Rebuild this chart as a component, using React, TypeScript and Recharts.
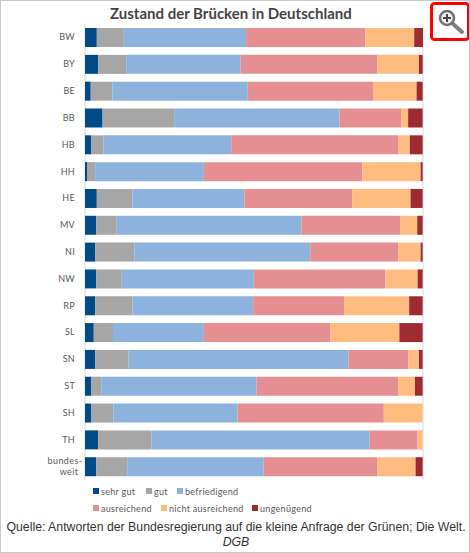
import { Bar, BarChart, CartesianGrid, XAxis, YAxis } from "recharts"

const regions = ["BW", "BY", "BE", "BB", "HB", "HH", "HE", "MV", "NI", "NW", "RP", "SL", "SN", "ST", "SH", "TH", "bundesweit"]

const sehrGut = [3.5, 3.9, 1.7, 5.2, 1.9, 0.6, 3.5, 3.3, 3, 3.3, 3, 2.6, 3, 1.9, 1.9, 3.9, 3.3]
const gut = [8, 8.3, 6.4, 21.2, 3.6, 2.4, 10.5, 6.1, 11.6, 7.6, 11, 5.7, 9.9, 2.9, 6.5, 15.8, 9.2]
const befriedigend = [36.2, 33.9, 40.1, 49, 37.8, 32.2, 33.2, 54.7, 52.1, 39.1, 35.8, 26.9, 65.1, 46, 36.8, 64.6, 40.4]
const ausreichend = [35.3, 40.4, 37.1, 18.2, 49.5, 46.9, 31.9, 29.2, 26.1, 39, 26.9, 37.4, 17.7, 42, 43.3, 14.2, 33.6]
const nichtAusreichend = [14.5, 12.4, 12.9, 2.1, 3.4, 17.3, 17.3, 5.1, 6.6, 9.5, 19.3, 20.5, 3.2, 4.9, 11.5, 1.5, 11.4]
const ungenuegend = [2.6, 1.1, 1.8, 4.3, 3.8, 0.6, 3.6, 1.6, 0.6, 1.5, 4, 6.9, 1.1, 2.3, 0, 0, 2.1]

const xTicks = [0, 10, 20, 30, 40, 50, 60, 70, 80, 90, 100]

const data = regions.map((region, i) => ({
  region,
  sehrGut: sehrGut[i],
  gut: gut[i],
  befriedigend: befriedigend[i],
  ausreichend: ausreichend[i],
  nichtAusreichend: nichtAusreichend[i],
  ungenuegend: ungenuegend[i],
}))

const series = [
  { key: "sehrGut", name: "sehr gut", color: "#004a87" },
  { key: "gut", name: "gut", color: "#a6a6a6" },
  { key: "befriedigend", name: "befriedigend", color: "#8db2db" },
  { key: "ausreichend", name: "ausreichend", color: "#e68f92" },
  { key: "nichtAusreichend", name: "nicht ausreichend", color: "#ffbc80" },
  { key: "ungenuegend", name: "ungenügend", color: "#9e2b30" },
]

const font = "Lato, sans-serif"

function RegionTick({ y, payload }: any) {
  if (payload.value === "bundesweit") {
    return (
      <text y={y} textAnchor="middle" fontSize={9} fontFamily={font} fill="#595959" letterSpacing={0.4}>
        <tspan x={65} dy={-3}>bundes-</tspan>
        <tspan x={69} dy={11}>weit</tspan>
      </text>
    )
  }
  return (
    <text x={75} y={y} dy={3} textAnchor="end" fontSize={9} fontFamily={font} fill="#595959" letterSpacing={0.3}>
      {payload.value}
    </text>
  )
}

function LegendItem({ left, top, index }: { left: number; top: number; index: number }) {
  const s = series[index]
  return (
    <div style={{ position: "absolute", left, top, height: 12, display: "flex", alignItems: "center", fontFamily: font, fontSize: 9, letterSpacing: 0.3, color: "#595959", whiteSpace: "nowrap" }}>
      <span style={{ width: 6, height: 6, background: s.color, marginRight: 2 }} />
      {s.name}
    </div>
  )
}

export default function App() {
  return (
    <div style={{ position: "fixed", left: 0, top: 0, width: 470, height: 553, background: "#fff", boxSizing: "border-box", border: "1px solid #c8c8c8", overflow: "hidden" }}>
      <div style={{ position: "absolute", left: -1, top: -1 }}>
        <BarChart width={470} height={553} data={data} layout="vertical" barCategoryGap="15%" margin={{ top: 24, right: 47, bottom: 73, left: 0 }}>
          <CartesianGrid vertical horizontal={false} stroke="#d9d9d9" />
          <XAxis type="number" domain={[0, 100]} ticks={xTicks} height={0} tick={false} axisLine={false} tickLine={false} />
          <YAxis type="category" dataKey="region" width={85} tick={<RegionTick />} axisLine={false} tickLine={false} interval={0} />
          {series.map((s) => (
            <Bar key={s.key} dataKey={s.key} name={s.name} stackId="a" fill={s.color} isAnimationActive={false} />
          ))}
        </BarChart>
      </div>

      <div style={{ position: "absolute", left: 109, top: 1, fontFamily: font, fontWeight: 700, fontSize: 15, lineHeight: "22px", color: "#444", whiteSpace: "nowrap" }}>
        Zustand der Brücken in Deutschland
      </div>

      <LegendItem left={92} top={484} index={0} />
      <LegendItem left={145} top={484} index={1} />
      <LegendItem left={176} top={484} index={2} />
      <LegendItem left={92} top={501} index={3} />
      <LegendItem left={160} top={501} index={4} />
      <LegendItem left={251} top={501} index={5} />

      <div style={{ position: "absolute", left: 0, width: 470, top: 519, textAlign: "center", fontFamily: "'Liberation Sans', sans-serif", fontSize: 12.3, lineHeight: "15px", color: "#333", whiteSpace: "nowrap" }}>
        Quelle: Antworten der Bundesregierung auf die kleine Anfrage der Grünen; Die Welt.
        <br />
        <i>DGB</i>
      </div>

      <svg width={40} height={40} style={{ position: "absolute", left: 429, top: 1 }}>
        <rect x={1.5} y={1.5} width={37} height={36} rx={3} fill="#fff" stroke="#f00" strokeWidth={3} />
        <line x1={22} y1={21} x2={32} y2={30} stroke="#808080" strokeWidth={4} strokeLinecap="round" />
        <circle cx={17} cy={16} r={7} fill="#eee" stroke="#707070" strokeWidth={2.5} />
        <path d="M13 16h8M17 12v8" stroke="#444" strokeWidth={2} />
      </svg>
    </div>
  )
}
